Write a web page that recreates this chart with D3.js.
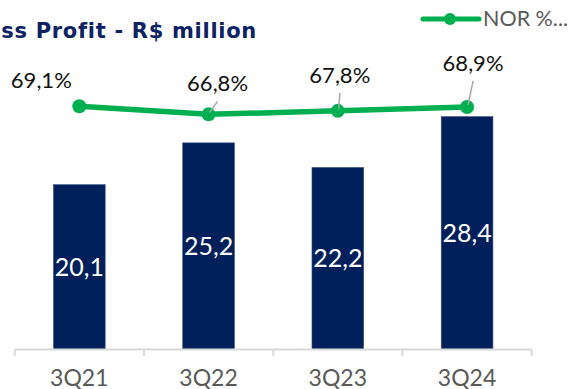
<!DOCTYPE html>
<html>
<head>
<meta charset="utf-8">
<script src="https://cdn.jsdelivr.net/npm/d3@7"></script>
<style>
  html, body { margin: 0; padding: 0; background: #fff; }
  svg { display: block; font-family: Lato, "Open Sans", sans-serif; }
</style>
</head>
<body>
<svg id="chart" width="579" height="389"></svg>
<script>
// Quarterly gross profit (R$ million) and NOR margin (%)
const quarters = ["3Q21", "3Q22", "3Q23", "3Q24"];
const grossProfit = [20.1, 25.2, 22.2, 28.4];
const norMargin = [69.1, 66.8, 67.8, 68.9];
const barLabels = ["20,1", "25,2", "22,2", "28,4"];
const marginLabels = ["69,1%", "66,8%", "67,8%", "68,9%"];
const titleText = "Gross Profit - R$ million";
const legendText = "NOR %...";

const navy = "#00205B";
const green = "#00B050";
const grey = "#595959";

const svg = d3.select("#chart");

const x = d3.scaleBand().domain(quarters).range([14.7, 531.7]).paddingInner(0.6).paddingOuter(0.3);
const y = d3.scaleLinear().domain([0, 40]).range([349.5, 21.5]);
const y2 = d3.scaleLinear().domain([0, 100]).range([349.5, -2.5]);

// Title (starts left of the visible area)
svg.append("text")
  .attr("x", 257).attr("y", 37.5)
  .attr("text-anchor", "end")
  .attr("fill", "#0B2265")
  .style("font-family", "'DejaVu Sans', sans-serif")
  .style("font-size", "21px")
  .style("font-weight", 700)
  .style("letter-spacing", "0.7px")
  .text(titleText);

// Legend
const lg = svg.append("g");
lg.append("line").attr("x1", 423).attr("x2", 479).attr("y1", 19).attr("y2", 19)
  .attr("stroke", green).attr("stroke-width", 5).attr("stroke-linecap", "round");
lg.append("circle").attr("cx", 450).attr("cy", 19).attr("r", 6).attr("fill", green);
lg.append("text").attr("x", 483).attr("y", 26).attr("fill", grey)
  .attr("font-size", 21.5).text(legendText);

// Bars
svg.append("g").selectAll("rect").data(quarters).join("rect")
  .attr("x", d => x(d))
  .attr("width", x.bandwidth())
  .attr("y", (d, i) => y(grossProfit[i]))
  .attr("height", (d, i) => y(0) - y(grossProfit[i]))
  .attr("fill", navy)
  .attr("stroke", "#3A4F80").attr("stroke-width", 0.6);

// Bar value labels, centred in each bar
svg.append("g").selectAll("text").data(quarters).join("text")
  .attr("x", d => x(d) + x.bandwidth() / 2)
  .attr("y", (d, i) => (y(grossProfit[i]) + y(0)) / 2 + 8.5)
  .attr("text-anchor", "middle")
  .attr("fill", "#fff")
  .attr("font-size", 25)
  .text((d, i) => barLabels[i]);

// Category axis
const axisG = svg.append("g");
axisG.append("line").attr("x1", 14.7).attr("x2", 531.7).attr("y1", 349.5).attr("y2", 349.5)
  .attr("stroke", "#D9D9D9").attr("stroke-width", 2);
const step = x.step();
d3.range(quarters.length + 1).forEach(i => {
  const tx = 14.7 + i * step;
  axisG.append("line").attr("x1", tx).attr("x2", tx).attr("y1", 349.5).attr("y2", 356)
    .attr("stroke", "#D9D9D9").attr("stroke-width", 2);
});
axisG.selectAll("text.tick").data(quarters).join("text")
  .attr("class", "tick")
  .attr("x", d => x(d) + x.bandwidth() / 2)
  .attr("y", 385.5)
  .attr("text-anchor", "middle")
  .attr("fill", grey)
  .attr("font-size", 23)
  .text(d => d);

// Margin line
const cx = d => x(d) + x.bandwidth() / 2;
const line = d3.line().x((d, i) => cx(quarters[i])).y(d => y2(d));
svg.append("path").datum(norMargin)
  .attr("d", line)
  .attr("fill", "none").attr("stroke", green).attr("stroke-width", 5.5)
  .attr("stroke-linecap", "round");

svg.append("g").selectAll("circle").data(norMargin).join("circle")
  .attr("cx", (d, i) => cx(quarters[i]))
  .attr("cy", d => y2(d))
  .attr("r", 7)
  .attr("fill", green);

// Margin labels with leader lines
const labelPos = [
  { dx: -38, dy: -18, leader: false },
  { dx: 9, dy: -23, leader: true },
  { dx: 2, dy: -28, leader: true },
  { dx: 6, dy: -36, leader: true }
];
const mg = svg.append("g");
norMargin.forEach((v, i) => {
  const px = cx(quarters[i]), py = y2(v);
  const p = labelPos[i];
  if (p.leader) {
    mg.append("line")
      .attr("x1", px + 1).attr("y1", py - 2)
      .attr("x2", px + p.dx).attr("y2", py + p.dy + 10)
      .attr("stroke", "#A6A6A6").attr("stroke-width", 1.5);
  }
  mg.append("text")
    .attr("x", px + p.dx).attr("y", py + p.dy)
    .attr("text-anchor", "middle")
    .attr("fill", "#111")
    .attr("font-size", 22)
    .text(marginLabels[i]);
});
</script>
</body>
</html>
